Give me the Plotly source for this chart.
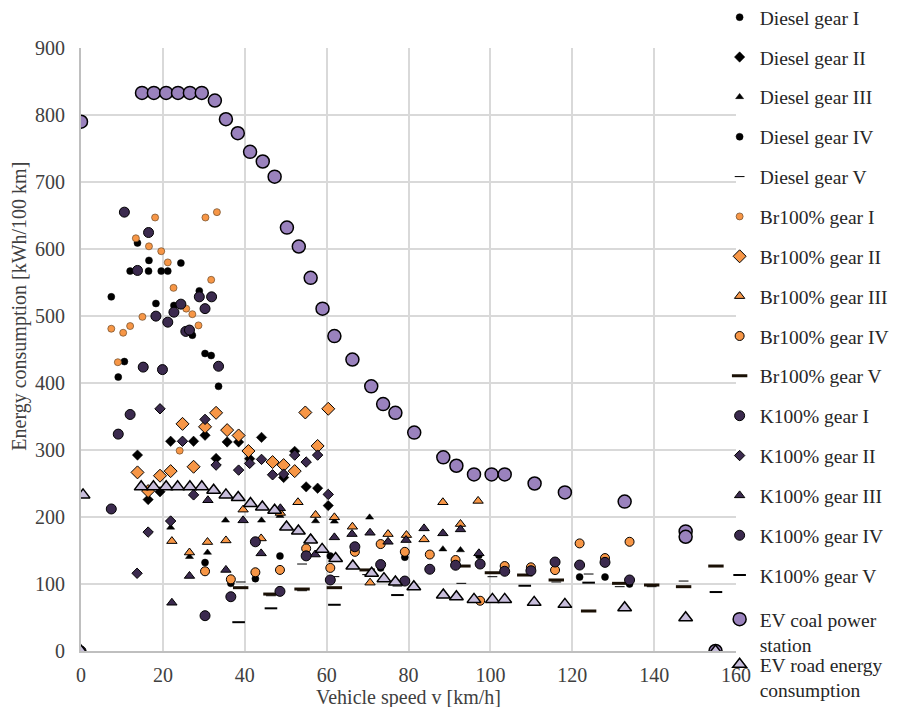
import plotly.graph_objects as go

# ---------------- data ----------------
diesel_I_x = [13.8, 16.6, 24.4, 12, 16.5, 19.6, 21.2, 7.4, 28.9, 18.3, 22.7, 27.2, 30.3, 31.8, 10.6, 9.1, 33.6]
diesel_I_y = [609, 583, 579, 567, 567, 567, 567, 528.6, 537.5, 518.7, 515.7, 471.4, 444, 441, 432, 408.8, 395]

diesel_II_x = [30.3, 21.9, 27.5, 35.7, 38.5, 13.8, 33, 19.3, 16.4, 44.1, 41.2, 52.2, 49.5, 55, 57.8, 60.4]
diesel_II_y = [322, 313, 313, 312, 312, 292.4, 287.5, 237.7, 226, 318.8, 287, 298, 259, 245, 243, 217]

diesel_III_x = [21.9, 35.3, 26.5, 30.9, 44.1, 48.6, 57.3, 61.9, 70.5, 88.4, 92.7]
diesel_III_y = [184.5, 195, 140.7, 147, 195, 202, 194, 193.5, 199.5, 152, 150.7]

diesel_IV_x = [30.3, 36.6, 42.6, 48.6, 60.9, 73.2, 79.1, 97.2, 121.8, 128, 134]
diesel_IV_y = [132, 101, 108, 141.7, 141.7, 124, 140, 143, 110.4, 110.4, 100]

diesel_V_x = [39, 46.4, 54, 54, 61.9, 69.9, 77.3, 92.9, 100.5, 116.1, 124, 131.6, 139.4, 147.2]
diesel_V_y = [103, 82.5, 129.8, 90, 111, 114, 97, 101, 110.9, 103, 114.9, 96, 96, 104.4]

br_I_x = [18.1, 30.4, 33.2, 13.4, 16.6, 19.6, 21.2, 31.8, 22.6, 25.7, 27.2, 15, 28.7, 7.4, 12, 10.3, 9, 24.1]
br_I_y = [647, 647, 655, 616, 604, 596.7, 580, 554, 542, 511, 502.7, 498.7, 486, 481, 485, 475, 431, 299]

br_II_x = [33, 24.8, 30.3, 35.7, 38.5, 40.9, 27.5, 13.8, 19.3, 21.9, 16.4, 54.8, 60.4, 46.8, 49.5, 52.2, 57.8]
br_II_y = [355.5, 339, 334.6, 329.7, 321.7, 298.5, 275, 266.6, 261.6, 268.5, 238.7, 356, 361.5, 282, 277.5, 268.5, 306]

br_III_x = [39.6, 22.2, 30.9, 35.4, 26.5, 53, 48.7, 57.3, 61.9, 66.3, 75, 79.5, 44, 70.6, 88.4, 97, 83.8, 92.7]
br_III_y = [211, 164, 162.6, 165, 147, 222, 206, 203, 199.5, 185.5, 174.5, 173, 168, 102, 222, 224, 166.6, 189.5]

br_IV_x = [30.3, 36.6, 42.6, 48.6, 55, 60.9, 66.9, 73.2, 79.1, 85.2, 91.5, 97.5, 103.5, 109.9, 115.8, 121.8, 128, 134]
br_IV_y = [119, 107, 117.5, 121, 153, 124, 148, 159.6, 148, 144, 135.8, 75, 126.8, 124.9, 120.8, 160.6, 138.7, 163]

br_V_x = [39, 46.4, 54, 61.9, 69.9, 93.3, 100.5, 108.4, 116.1, 124, 131.6, 139.4, 147.2, 155.1]
br_V_y = [94.5, 85, 92.5, 94.5, 121, 126.8, 116.8, 113.4, 106, 59.7, 101, 98.5, 96, 126.8]

k_I_x = [10.6, 16.5, 13.8, 28.9, 31.9, 24.4, 30.3, 22.7, 18.3, 21.2, 25.6, 26.5, 33.6, 15.2, 19.9, 12, 9.1, 7.4, 0]
k_I_y = [655, 624.6, 568, 528.6, 528.6, 517.7, 511, 505.7, 499.8, 490.8, 477, 479, 425, 423.7, 420, 353, 323.7, 212, 0]

k_II_x = [19.3, 30.3, 24.8, 33, 38.5, 27.5, 21.9, 16.4, 13.7, 41.2, 44.1, 52.2, 46.8, 49.5, 55, 57.8, 60.4]
k_II_y = [361.5, 345.7, 313, 277.5, 270, 233, 194, 177.5, 116, 280, 286, 292.4, 263, 264, 282, 292.4, 233.7]

k_III_x = [31, 39.6, 26.5, 35.4, 22.2, 48.7, 44, 57.2, 61.9, 66.2, 70.6, 75, 79.4, 56.1, 83.8, 88.4, 92.7, 97.2]
k_III_y = [225, 195, 112, 121, 72, 213, 145.7, 144, 169.6, 174.5, 176.5, 163, 165.6, 168, 183, 175.6, 181.5, 145.8]

k_IV_x = [30.3, 36.6, 42.6, 48.6, 55, 60.9, 66.9, 73.2, 79.1, 85.2, 91.5, 97.5, 103.5, 109.9, 115.8, 121.8, 128, 134]
k_IV_y = [52.7, 81, 163, 89, 142, 106, 155.6, 129, 104.4, 122, 128, 129.8, 119, 119.8, 132.8, 128.3, 132.3, 106]

k_V_x = [38.5, 46.4, 61.9, 77.3, 108.4, 124, 155.1]
k_V_y = [43, 63.7, 69, 83.5, 97.4, 102, 88]

ev_coal_x = [0, 14.9, 17.8, 20.8, 23.7, 26.6, 29.5, 32.7, 35.4, 38.3, 41.3, 44.4, 47.3, 50.3, 53.2, 56.1, 59,
             61.9, 66.3, 70.9, 73.8, 76.8, 81.4, 88.5, 91.7, 96, 100.3, 103.5, 110.8, 118.2, 132.8, 147.7, 147.7, 155]
ev_coal_y = [790, 833, 833, 833, 833, 833, 833, 821.6, 793.7, 772.8, 745, 730.6, 708, 632, 603.7, 557, 511,
             470, 435, 395, 368.5, 355.5, 326, 289, 276.5, 263.6, 263.6, 263.6, 250, 236.7, 223, 178.5, 170.5, 0]

ev_road_x = [0, 0.5, 14.7, 17.7, 20.8, 23.6, 26.6, 29.5, 32.4, 35.4, 38.4, 41.4, 44.3, 47.3, 50.2, 53.1, 56.1,
             58.9, 62.2, 66.4, 71, 74, 76.8, 81.3, 88.5, 91.7, 96, 100.5, 103.5, 110.7, 118.2, 132.8, 147.7, 155]
ev_road_y = [0, 233, 245, 245, 245, 245, 245, 245, 240, 233, 229, 220, 215, 210, 185, 179, 165.6,
             151.7, 138, 126.8, 116, 108, 103, 96, 83.5, 81, 77, 77, 77, 72.6, 69.6, 64.6, 49.7, 0]

x_ticks = [0, 20, 40, 60, 80, 100, 120, 140, 160]
y_ticks = [0, 100, 200, 300, 400, 500, 600, 700, 800, 900]

ORANGE = "#F79646"
DARK = "#3B2A4E"
COAL = "#9A82BD"
ROAD = "#C8BEDC"
BLACK = "#000000"

series = [
    ("Diesel gear I", diesel_I_x, diesel_I_y, "circle", 7, BLACK, BLACK, 0.5, "legend"),
    ("Diesel gear II", diesel_II_x, diesel_II_y, "diamond", 8, BLACK, BLACK, 0.5, "legend"),
    ("Diesel gear III", diesel_III_x, diesel_III_y, "triangle-up", 7, BLACK, BLACK, 0.5, "legend"),
    ("Diesel gear IV", diesel_IV_x, diesel_IV_y, "circle", 7, BLACK, BLACK, 0.5, "legend"),
    ("Diesel gear V", diesel_V_x, diesel_V_y, "line-ew", 7, BLACK, BLACK, 1, "legend"),
    ("Br100% gear I", br_I_x, br_I_y, "circle", 7, ORANGE, "#6b4a2a", 0.7, "legend"),
    ("Br100% gear II", br_II_x, br_II_y, "diamond", 10, ORANGE, BLACK, 1, "legend"),
    ("Br100% gear III", br_III_x, br_III_y, "triangle-up", 9, ORANGE, BLACK, 1, "legend"),
    ("Br100% gear IV", br_IV_x, br_IV_y, "circle", 9, ORANGE, BLACK, 1, "legend"),
    ("Br100% gear V", br_V_x, br_V_y, "line-ew", 11, "#2a1a0a", "#1a1005", 3, "legend"),
    ("K100% gear I", k_I_x, k_I_y, "circle", 10, DARK, BLACK, 1, "legend"),
    ("K100% gear II", k_II_x, k_II_y, "diamond", 8, DARK, BLACK, 1, "legend"),
    ("K100% gear III", k_III_x, k_III_y, "triangle-up", 9, DARK, BLACK, 1, "legend"),
    ("K100% gear IV", k_IV_x, k_IV_y, "circle", 10, DARK, BLACK, 1, "legend"),
    ("K100% gear V", k_V_x, k_V_y, "line-ew", 9, BLACK, BLACK, 2, "legend"),
    ("EV coal power<br>station", ev_coal_x, ev_coal_y, "circle", 13, COAL, BLACK, 1.5, "legend2"),
    ("EV road energy<br>consumption", ev_road_x, ev_road_y, "triangle-up", 12, ROAD, BLACK, 1.5, "legend3"),
]

fig = go.Figure()
for i, (name, xs, ys, sym, size, fill, edge, lw, leg) in enumerate(series):
    fig.add_trace(go.Scatter(
        x=xs, y=ys, mode="markers", name=name, legendgroup=f"g{i}", legend=leg,
        marker=dict(symbol=sym, size=size, color=fill,
                    line=dict(color=edge, width=lw)),
    ))

FONT = "Liberation Serif, Times New Roman, serif"
TXT = "#404040"
LEGX = 0.975
leg_common = dict(x=LEGX, xanchor="left", yanchor="top", yref="paper",
                  font=dict(family=FONT, size=19.5, color="#262626"),
                  tracegroupgap=11.5, itemsizing="trace", itemwidth=30,
                  bgcolor="rgba(0,0,0,0)", maxheight=720, valign="top")
fig.update_layout(
    width=885, height=699,
    margin=dict(l=73, r=157, t=40, b=56, autoexpand=False),
    paper_bgcolor="white", plot_bgcolor="white",
    font=dict(family=FONT, size=20, color=TXT),
    legend=dict(y=1.0829, **leg_common),
    legend2=dict(y=0.0846, **leg_common),
    legend3=dict(y=0.0099, **leg_common),
    xaxis=dict(
        range=[0, 160], tickvals=x_ticks,
        showgrid=True, gridcolor="#D9D9D9", gridwidth=1.5,
        showline=True, linecolor="#BFBFBF", linewidth=2,
        zeroline=False, ticks="", ticklabelstandoff=5,
        tickfont=dict(family=FONT, size=20, color=TXT),
    ),
    yaxis=dict(
        range=[0, 900], tickvals=y_ticks,
        showgrid=True, gridcolor="#D9D9D9", gridwidth=1.5,
        showline=True, linecolor="#BFBFBF", linewidth=2,
        zeroline=False, ticks="", ticklabelstandoff=10,
        tickfont=dict(family=FONT, size=20, color=TXT),
    ),
    annotations=[
        dict(text="Energy consumption [kWh/100 km]", textangle=-90,
             xref="paper", yref="paper", x=-0.0931, y=0.571,
             xanchor="center", yanchor="middle", showarrow=False,
             font=dict(family=FONT, size=20, color=TXT)),
        dict(text="Vehicle speed v [km/h]",
             xref="paper", yref="paper", x=0.5, y=-0.0765,
             xanchor="center", yanchor="middle", showarrow=False,
             font=dict(family=FONT, size=20, color=TXT)),
    ],
)
fig.write_html("out.html")
